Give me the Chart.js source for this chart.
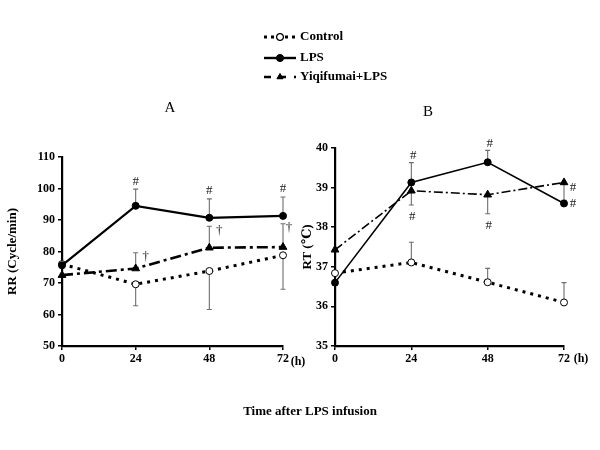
<!DOCTYPE html>
<html><head><meta charset="utf-8">
<script src="https://cdn.jsdelivr.net/npm/chart.js@4/dist/chart.umd.min.js"></script>
<style>
html,body{margin:0;padding:0;background:#fff;}
#wrap{position:relative;width:600px;height:450px;}
canvas{position:absolute;left:0;top:0;}
</style></head>
<body>
<div id="wrap"><canvas id="cA" width="600" height="450"></canvas><canvas id="cB" width="600" height="450"></canvas></div>
<script>
// ---- data ----
const hours = [0, 24, 48, 72];
const seriesNames = ['Control', 'LPS', 'Yiqifumai+LPS'];
// Panel A: respiratory rate (cycle/min)
const rrControl = [76.0, 69.6, 73.8, 78.8];
const rrControlErr = [0, 6.8, 12.2, 10.8];
const rrLPS = [75.6, 94.5, 90.7, 91.3];
const rrLPSErr = [0, 5.3, 6.0, 6.0];
const rrYq = [72.5, 74.6, 81.2, 81.4];
const rrYqErr = [0, 5.0, 6.8, 7.4];
// Panel B: rectal temperature (°C)
const rtControl = [36.84, 37.11, 36.61, 36.10];
const rtControlErr = [0, 0.51, 0.35, 0.50];
const rtLPS = [36.60, 39.13, 39.64, 38.60];
const rtLPSErr = [0, 0.50, 0.30, 0];
const rtYq = [37.43, 38.92, 38.82, 39.13];
const rtYqErr = [0, 0.36, 0.48, 0.45];
// significance marks: [series index, hour index, symbol]
const rrMarks = [[1,1,'#'],[1,2,'#'],[1,3,'#'],[2,1,'†'],[2,2,'†'],[2,3,'†']];
const rtMarks = [[1,1,'#'],[1,2,'#'],[2,1,'#'],[2,2,'#'],[2,3,'#'],[1,3,'#']];
const rrTicks = {min: 50, max: 110, step: 10};
const rtTicks = {min: 35, max: 40, step: 1};

const SERIF = '"Liberation Serif", "DejaVu Serif", serif';
const pts = arr => arr.map((v, i) => ({x: hours[i], y: v}));

function styles(thin) {
  return [
    {borderColor:'#000', borderWidth:3, borderDash:[3,5], pointStyle:'circle', pointRadius:3.5,
     pointBackgroundColor:'#fff', pointBorderColor:'#000', pointBorderWidth:1},
    {borderColor:'#000', borderWidth: thin ? 1.6 : 2.2, borderDash:[], pointStyle:'circle', pointRadius:3.5,
     pointBackgroundColor:'#000', pointBorderColor:'#000', pointBorderWidth:1},
    {borderColor:'#000', borderWidth: thin ? 1.6 : 2.6, borderDash: thin ? [9,3,2,3] : [11,4,3,4], pointStyle:'triangle', pointRadius:4.5,
     pointBackgroundColor:'#000', pointBorderColor:'#000', pointBorderWidth:1}
  ];
}

function makeDatasets(vals, errs, dirs, thin) {
  const st = styles(thin);
  return vals.map((v, k) => Object.assign({
    label: seriesNames[k], data: pts(v), err: errs[k], errDir: dirs[k],
    tension: 0, fill: false, order: 2 - k, clip: false
  }, st[k]));
}

const errorBars = {
  id: 'errorBars',
  beforeDatasetsDraw(chart) {
    const ctx = chart.ctx, ys = chart.scales.y, xs = chart.scales.x;
    ctx.save();
    ctx.strokeStyle = '#6e6e6e'; ctx.lineWidth = 1.1; ctx.setLineDash([]);
    chart.data.datasets.forEach(ds => {
      ds.data.forEach((p, i) => {
        const e = ds.err[i]; if (!e) return;
        const x = xs.getPixelForValue(p.x);
        const y0 = ys.getPixelForValue(p.y);
        const y1 = ys.getPixelForValue(p.y + ds.errDir * e);
        ctx.beginPath(); ctx.moveTo(x, y0); ctx.lineTo(x, y1);
        ctx.moveTo(x - 2.5, y1); ctx.lineTo(x + 2.5, y1); ctx.stroke();
      });
    });
    ctx.restore();
  }
};

function marksPlugin(marks, placer) {
  return {
    id: 'sigMarks',
    afterDatasetsDraw(chart) {
      const ctx = chart.ctx, ys = chart.scales.y, xs = chart.scales.x;
      ctx.save();
      ctx.fillStyle = '#222'; ctx.font = '13px ' + SERIF;
      ctx.textAlign = 'center'; ctx.textBaseline = 'middle';
      marks.forEach(([s, i, sym]) => {
        const ds = chart.data.datasets[s];
        const v = ds.data[i].y, e = ds.err[i] * ds.errDir;
        const x = xs.getPixelForValue(hours[i]);
        const yv = ys.getPixelForValue(v), ye = ys.getPixelForValue(v + e);
        const [px, py] = placer(s, i, x, yv, ye);
        ctx.fillText(sym, px, py);
      });
      ctx.restore();
    }
  };
}

function textPlugin(items) {
  return {
    id: 'texts',
    afterDraw(chart) {
      const ctx = chart.ctx;
      ctx.save(); ctx.fillStyle = '#000'; ctx.textBaseline = 'middle';
      items.forEach(t => {
        ctx.font = t.font; ctx.textAlign = t.align || 'center';
        ctx.fillText(t.text, t.x, t.y);
      });
      ctx.restore();
    }
  };
}

const legendPlugin = {
  id: 'customLegend',
  afterDraw(chart) {
    const ctx = chart.ctx;
    const rows = [37, 58, 77];
    ctx.save();
    chart.data.datasets.forEach((ds, k) => {
      const y = rows[k];
      ctx.strokeStyle = '#000'; ctx.lineWidth = k === 0 ? 3 : 2.4;
      ctx.setLineDash(k === 0 ? [3,4] : k === 2 ? [7,8] : []);
      ctx.beginPath(); ctx.moveTo(264, y); ctx.lineTo(296, y); ctx.stroke();
      ctx.setLineDash([]);
      if (k === 0) { ctx.fillStyle = '#fff'; ctx.fillRect(275, y - 5, 10, 10); }
      ctx.fillStyle = ds.pointBackgroundColor; ctx.strokeStyle = '#000'; ctx.lineWidth = 1;
      Chart.helpers.drawPoint(ctx, {pointStyle: ds.pointStyle, radius: 3.5, rotation: 0, borderWidth: 1}, 280, y);
      if (k === 0) ctx.stroke(); else ctx.fill();
      ctx.fillStyle = '#000'; ctx.font = 'bold 13px ' + SERIF;
      ctx.textAlign = 'left'; ctx.textBaseline = 'middle';
      ctx.fillText(ds.label, 300, y);
    });
    ctx.restore();
  }
};

function axisOpts(tk, title, titlePadTop, yWidth) {
  const tickFont = {family: SERIF, size: 12, weight: 'bold'};
  return {
    x: {type: 'linear', min: 0, max: 72,
        ticks: {stepSize: 24, color: '#000', font: tickFont, padding: 2, maxRotation: 0},
        grid: {display: true, drawOnChartArea: false, drawTicks: true, tickLength: 4, color: '#000', lineWidth: 1.5},
        border: {display: true, color: '#000', width: 2.2},
        afterFit: s => { s.height = 104; }},
    y: {type: 'linear', min: tk.min, max: tk.max,
        ticks: {stepSize: tk.step, color: '#000', font: tickFont, padding: 3},
        grid: {display: true, drawOnChartArea: false, drawTicks: true, tickLength: 4, color: '#000', lineWidth: 1.5},
        border: {display: true, color: '#000', width: 2.2},
        title: {display: true, text: title, color: '#000', font: {family: SERIF, size: 13, weight: 'bold'},
                padding: {top: titlePadTop, bottom: 0}},
        afterFit: s => { s.width = yWidth; }}
  };
}

const baseOpts = {
  responsive: false, animation: false, devicePixelRatio: 1,
  plugins: {legend: {display: false}, tooltip: {enabled: false}}
};

// Panel A
new Chart(document.getElementById('cA'), {
  type: 'line',
  data: {datasets: makeDatasets([rrControl, rrLPS, rrYq], [rrControlErr, rrLPSErr, rrYqErr], [-1, 1, 1], false)},
  options: Object.assign({}, baseOpts, {
    layout: {autoPadding: false, padding: {left: 0, top: 157, right: 317, bottom: 0}},
    scales: axisOpts(rrTicks, 'RR (Cycle/min)', 5, 62)
  }),
  plugins: [errorBars,
    marksPlugin(rrMarks, (s, i, x, yv, ye) => s === 1 ? [x, ye - 8] : [x + (i === 3 ? 6 : 10), ye + 4]),
    textPlugin([
      {text: 'A', x: 170, y: 108, font: '15px ' + SERIF},
      {text: '(h)', x: 298, y: 362, font: 'bold 12px ' + SERIF},
      {text: 'Time after LPS infusion', x: 310, y: 412, font: 'bold 13px ' + SERIF}
    ]),
    legendPlugin]
});

// Panel B
new Chart(document.getElementById('cB'), {
  type: 'line',
  data: {datasets: makeDatasets([rtControl, rtLPS, rtYq], [rtControlErr, rtLPSErr, rtYqErr], [1, 1, -1], true)},
  options: Object.assign({}, baseOpts, {
    layout: {autoPadding: false, padding: {left: 300, top: 148, right: 36, bottom: 0}},
    scales: axisOpts(rtTicks, 'RT (℃)', 0, 35)
  }),
  plugins: [errorBars,
    marksPlugin(rtMarks, (s, i, x, yv, ye) => {
      if (i === 3) return [x + 9, yv + (s === 2 ? 5 : 0)];
      return s === 1 ? [x + 2, ye - 7] : [x + 1, ye + 12];
    }),
    textPlugin([
      {text: 'B', x: 428, y: 112, font: '15px ' + SERIF},
      {text: '(h)', x: 581, y: 359, font: 'bold 12px ' + SERIF}
    ])]
});
</script>
</body></html>
